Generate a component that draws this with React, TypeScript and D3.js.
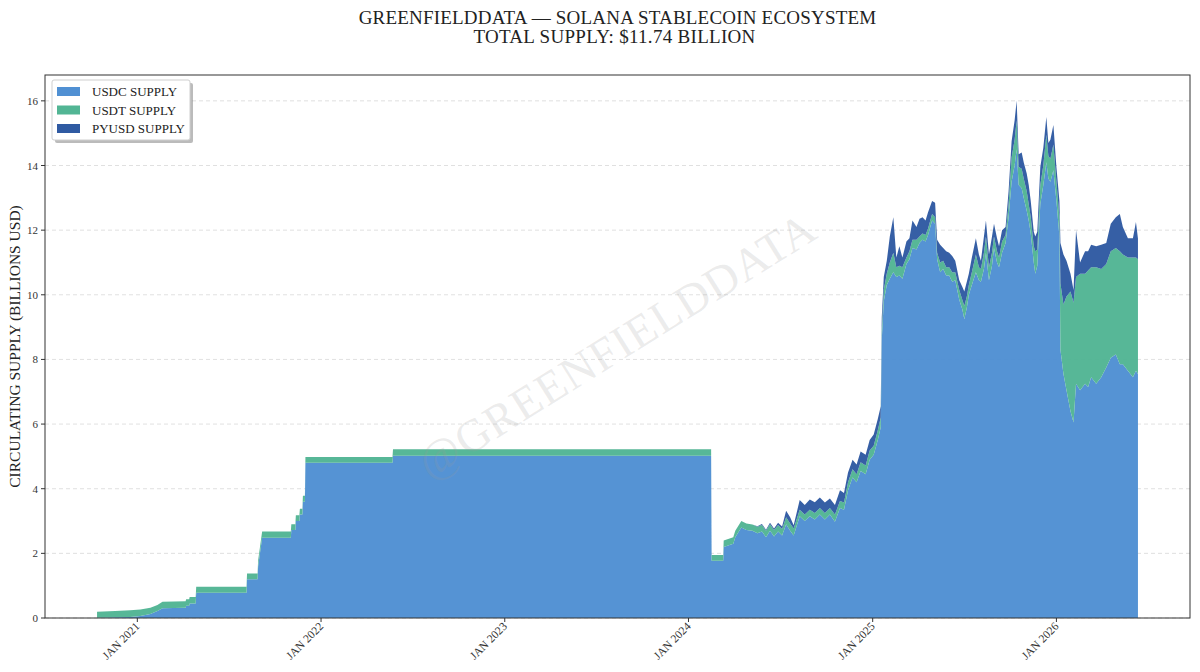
import * as d3 from 'd3';

// daily supply snapshots (billions USD)
const dates = [
  '2020-10-13', '2020-11-18', '2020-12-18', '2021-01-07', '2021-01-27', '2021-02-10', '2021-02-20',
  '2021-04-07', '2021-04-08', '2021-04-14', '2021-04-15', '2021-04-27', '2021-04-28',
  '2021-08-06', '2021-08-07', '2021-08-28', '2021-08-29', '2021-09-06',
  '2021-11-02', '2021-11-03', '2021-11-11', '2021-11-12', '2021-11-19', '2021-11-20',
  '2021-11-25', '2021-11-26', '2021-11-30', '2021-12-01',
  '2022-05-23', '2022-05-24', '2024-02-15', '2024-02-16', '2024-03-10', '2024-03-11',
  '2024-03-30', '2024-04-03', '2024-04-15', '2024-04-25', '2024-05-07', '2024-05-17',
  '2024-05-26', '2024-06-03', '2024-06-11', '2024-06-19', '2024-06-27', '2024-07-05',
  '2024-07-13', '2024-07-21', '2024-07-28', '2024-08-09', '2024-08-19', '2024-08-29',
  '2024-09-08', '2024-09-18', '2024-09-28', '2024-10-08', '2024-10-18', '2024-10-28',
  '2024-11-05', '2024-11-13', '2024-11-22', '2024-11-30', '2024-12-08', '2024-12-18',
  '2024-12-26', '2025-01-03', '2025-01-11', '2025-01-17', '2025-01-19', '2025-01-23',
  '2025-01-29', '2025-02-04', '2025-02-11', '2025-02-17', '2025-02-23', '2025-03-01',
  '2025-03-09', '2025-03-15', '2025-03-21', '2025-03-29', '2025-04-04', '2025-04-10',
  '2025-04-16', '2025-04-21', '2025-04-29', '2025-05-05', '2025-05-09', '2025-05-15',
  '2025-05-21', '2025-05-27', '2025-06-02', '2025-06-08', '2025-06-14', '2025-06-22',
  '2025-06-28', '2025-07-02', '2025-07-07', '2025-07-11', '2025-07-17', '2025-07-25',
  '2025-07-31', '2025-08-04', '2025-08-10', '2025-08-14', '2025-08-20', '2025-08-26',
  '2025-08-30', '2025-09-05', '2025-09-09', '2025-09-15', '2025-09-22', '2025-09-28',
  '2025-10-04', '2025-10-10', '2025-10-14', '2025-10-18', '2025-10-24', '2025-10-28',
  '2025-11-03', '2025-11-07', '2025-11-11', '2025-11-17', '2025-11-20', '2025-11-24',
  '2025-11-30', '2025-12-06', '2025-12-12', '2025-12-16', '2025-12-20', '2025-12-26',
  '2026-01-01', '2026-01-07', '2026-01-09', '2026-01-15', '2026-01-21', '2026-01-29',
  '2026-02-04', '2026-02-09', '2026-02-17', '2026-02-27', '2026-03-05', '2026-03-11',
  '2026-03-21', '2026-03-31', '2026-04-10', '2026-04-19', '2026-04-29', '2026-05-07',
  '2026-05-13', '2026-05-23', '2026-06-02', '2026-06-08', '2026-06-12',
];

const usdcSupply = [
  0.01, 0.02, 0.03, 0.06, 0.12, 0.22, 0.3,
  0.32, 0.38, 0.38, 0.45, 0.45, 0.78,
  0.78, 1.2, 1.2, 1.6, 2.48,
  2.48, 2.72, 2.72, 3.0, 3.0, 3.2,
  3.2, 3.6, 3.6, 4.8,
  4.8, 5.02, 5.02, 1.77, 1.77, 2.2,
  2.3, 2.5, 2.8, 2.72, 2.7, 2.62,
  2.68, 2.5, 2.7, 2.52, 2.68, 2.55,
  2.9, 2.7, 2.55, 3.15, 3.0, 3.15,
  3.05, 3.2, 3.05, 3.2, 2.98, 3.4,
  3.35, 3.95, 4.35, 4.2, 4.55, 4.45,
  4.9, 5.05, 5.5, 5.9, 8.6, 9.8,
  10.3, 10.5, 10.7, 10.55, 10.6, 10.5,
  10.95, 11.1, 11.45, 11.4, 11.6, 11.7,
  11.65, 11.85, 12.3, 12.2, 11.1, 10.7,
  10.8, 10.6, 10.6, 10.4, 10.45, 9.85,
  9.55, 9.25, 9.6, 10.0, 10.3, 10.7,
  10.45, 10.4, 10.8, 11.3, 10.45, 10.9,
  11.45, 11.0, 10.85, 11.3, 11.6, 12.4,
  13.5, 14.0, 14.5, 13.4, 13.3, 13.0,
  12.6, 12.3, 11.9, 11.0, 10.65, 10.9,
  12.8, 13.4, 14.1, 13.6, 13.5, 13.85,
  12.9, 11.8, 8.3, 7.55, 7.05, 6.4,
  6.05, 7.25, 7.05, 7.25, 7.15, 7.45,
  7.25, 7.45, 7.75, 8.05, 8.15, 7.85,
  7.85, 7.65, 7.45, 7.65, 7.55,
];

const usdtSupply = [
  0.18, 0.2, 0.21, 0.2, 0.2, 0.18, 0.2,
  0.2, 0.2, 0.2, 0.2, 0.2, 0.19,
  0.19, 0.18, 0.18, 0.18, 0.2,
  0.2, 0.18, 0.18, 0.18, 0.18, 0.18,
  0.18, 0.18, 0.18, 0.18,
  0.18, 0.2, 0.2, 0.18, 0.18, 0.2,
  0.2, 0.2, 0.2, 0.2, 0.19, 0.2,
  0.2, 0.2, 0.2, 0.2, 0.2, 0.2,
  0.22, 0.22, 0.22, 0.2, 0.2, 0.2,
  0.2, 0.2, 0.2, 0.2, 0.22, 0.22,
  0.22, 0.25, 0.25, 0.25, 0.27, 0.27,
  0.28, 0.28, 0.3, 0.3, 0.3, 0.35,
  0.35, 0.5, 0.6, 0.3, 0.3, 0.35,
  0.2, 0.25, 0.25, 0.3, 0.2, 0.2,
  0.2, 0.2, 0.2, 0.2, 0.2, 0.3,
  0.25, 0.25, 0.25, 0.3, 0.25, 0.3,
  0.3, 0.4, 0.35, 0.3, 0.4, 0.55,
  0.4, 0.4, 0.5, 0.5, 0.4, 0.4,
  0.35, 0.35, 0.3, 0.35, 0.25, 0.4,
  0.75, 0.8, 0.9, 0.55, 0.6, 0.6,
  0.6, 0.5, 0.5, 0.5, 0.7, 0.5,
  0.6, 0.6, 0.85, 0.7, 0.7, 0.8,
  0.6, 0.6, 2.05, 2.15, 2.9, 3.7,
  3.7, 3.3, 3.6, 3.4, 3.6, 3.4,
  3.6, 3.35, 3.2, 3.3, 3.3, 3.5,
  3.4, 3.5, 3.7, 3.5, 3.55,
];

const pyusdSupply = [
  0, 0, 0, 0, 0, 0, 0,
  0, 0, 0, 0, 0, 0,
  0, 0, 0, 0, 0,
  0, 0, 0, 0, 0, 0,
  0, 0, 0, 0,
  0, 0, 0, 0, 0, 0,
  0, 0, 0, 0, 0, 0.02,
  0.03, 0.03, 0.05, 0.05, 0.07, 0.08,
  0.2, 0.2, 0.1, 0.3, 0.3, 0.32,
  0.33, 0.33, 0.32, 0.3, 0.3, 0.33,
  0.3, 0.3, 0.3, 0.3, 0.33, 0.33,
  0.33, 0.35, 0.35, 0.35, 0.4, 0.4,
  0.4, 0.8, 1.1, 0.3, 0.6, 0.3,
  0.5, 0.4, 0.6, 0.4, 0.55, 0.5,
  0.45, 0.5, 0.4, 0.45, 0.4, 0.55,
  0.4, 0.5, 0.45, 0.5, 0.35, 0.3,
  0.4, 0.45, 0.45, 0.35, 0.45, 0.5,
  0.4, 0.25, 0.5, 0.5, 0.4, 0.5,
  0.4, 0.4, 0.35, 0.35, 0.25, 0.4,
  0.5, 0.6, 0.6, 0.4, 0.5, 0.5,
  0.55, 0.6, 0.5, 0.45, 0.45, 0.55,
  0.55, 0.55, 0.55, 0.4, 0.6, 0.6,
  0.45, 0.5, 1.25, 1.55, 1.1, 0.55,
  0.4, 1.45, 0.35, 0.7, 0.6, 0.7,
  0.65, 0.75, 0.65, 0.85, 0.95, 1.15,
  0.85, 0.6, 0.6, 1.1, 0.64,
];

const seriesKeys = ['usdc', 'usdt', 'pyusd'];
const seriesLabels = ['USDC SUPPLY', 'USDT SUPPLY', 'PYUSD SUPPLY'];
const seriesColors = ['#5090d3', '#52b594', '#2f5aa2'];
const yTicks = [0, 2, 4, 6, 8, 10, 12, 14, 16];
const xTickYears = [2021, 2022, 2023, 2024, 2025, 2026];

const W = 1200;
const H = 672;
const margin = { top: 75, right: 10, bottom: 54, left: 45 };
const FONT = '"Liberation Serif", "DejaVu Serif", serif';

export default function App() {
  const parse = d3.timeParse('%Y-%m-%d');
  const rows = dates.map((d, i) => ({
    date: parse(d) as Date,
    usdc: usdcSupply[i],
    usdt: usdtSupply[i],
    pyusd: pyusdSupply[i],
  }));

  // 5% padding either side of the data, like the original plot
  const [d0, d1] = d3.extent(rows, (r) => r.date) as [Date, Date];
  const pad = (d1.getTime() - d0.getTime()) * 0.05;
  const x = d3
    .scaleTime()
    .domain([new Date(d0.getTime() - pad), new Date(d1.getTime() + pad)])
    .range([margin.left, W - margin.right]);
  const maxTotal = d3.max(rows, (r) => r.usdc + r.usdt + r.pyusd) as number;
  const y = d3.scaleLinear().domain([0, maxTotal * 1.05]).range([H - margin.bottom, margin.top]);

  const stacked = d3.stack<any>().keys(seriesKeys)(rows);
  const area = d3
    .area<any>()
    .x((d) => x(d.data.date))
    .y0((d) => y(d[0]))
    .y1((d) => y(d[1]))
    .curve(d3.curveLinear);

  const plotW = W - margin.left - margin.right;
  const plotH = H - margin.top - margin.bottom;
  const cx = margin.left + plotW / 2;
  const cy = margin.top + plotH / 2;

  return (
    <svg width={W} height={H} style={{ position: 'absolute', left: 0, top: 0, background: '#fff' }} fontFamily={FONT}>
      {/* title */}
      <text x={cx} y={24} textAnchor="middle" fontSize={19} fill="#222" letterSpacing={0.2}>
        GREENFIELDDATA — SOLANA STABLECOIN ECOSYSTEM
      </text>
      <text x={cx - 3} y={43} textAnchor="middle" fontSize={19} fill="#222" letterSpacing={0.3}>
        TOTAL SUPPLY: $11.74 BILLION
      </text>

      {/* grid */}
      {yTicks.map((t) => (
        <line key={t} x1={margin.left} x2={W - margin.right} y1={y(t)} y2={y(t)} stroke="#d8d8d8" strokeWidth={0.8} strokeDasharray="4,3" />
      ))}

      {/* stacked areas */}
      {stacked.map((s, i) => (
        <path key={s.key} d={area(s) || ''} fill={seriesColors[i]} fillOpacity={0.97} />
      ))}

      {/* watermark */}
      <text
        x={cx}
        y={cy + 14}
        textAnchor="middle"
        fontSize={46}
        fill="#9a9a9a"
        fillOpacity={0.2}
        transform={`rotate(-32, ${cx}, ${cy})`}
        letterSpacing={1}
      >
        @GREENFIELDDATA
      </text>

      {/* frame */}
      <rect x={margin.left} y={margin.top} width={plotW} height={plotH} fill="none" stroke="#333" strokeWidth={1} />

      {/* y axis */}
      {yTicks.map((t) => (
        <g key={t}>
          <line x1={margin.left - 4} x2={margin.left} y1={y(t)} y2={y(t)} stroke="#333" />
          <text x={margin.left - 7} y={y(t) + 4} textAnchor="end" fontSize={11} fill="#333">
            {t}
          </text>
        </g>
      ))}
      <text
        transform={`translate(20, ${cy}) rotate(-90)`}
        textAnchor="middle"
        fontSize={15.5}
        fill="#222"
      >
        CIRCULATING SUPPLY (BILLIONS USD)
      </text>

      {/* x axis */}
      {xTickYears.map((yr) => {
        const px = x(new Date(yr, 0, 1));
        const base = H - margin.bottom;
        return (
          <g key={yr}>
            <line x1={px} x2={px} y1={base} y2={base + 4} stroke="#333" />
            <text
              transform={`translate(${px + 3}, ${base + 9}) rotate(-45)`}
              textAnchor="end"
              fontSize={11.5}
              fill="#333"
            >
              {`JAN ${yr}`}
            </text>
          </g>
        );
      })}

      {/* legend */}
      <g>
        <rect x={55} y={83} width={138} height={60} rx={2} fill="#777" fillOpacity={0.5} />
        <rect x={52} y={80} width={138} height={60} rx={2} fill="#fff" stroke="#cfcfcf" />
        {seriesLabels.map((lab, i) => (
          <g key={lab}>
            <rect x={57} y={87 + i * 18.5} width={23} height={9} fill={seriesColors[i]} />
            <text x={92} y={96 + i * 18.5} fontSize={13} fill="#222">
              {lab}
            </text>
          </g>
        ))}
      </g>
    </svg>
  );
}
